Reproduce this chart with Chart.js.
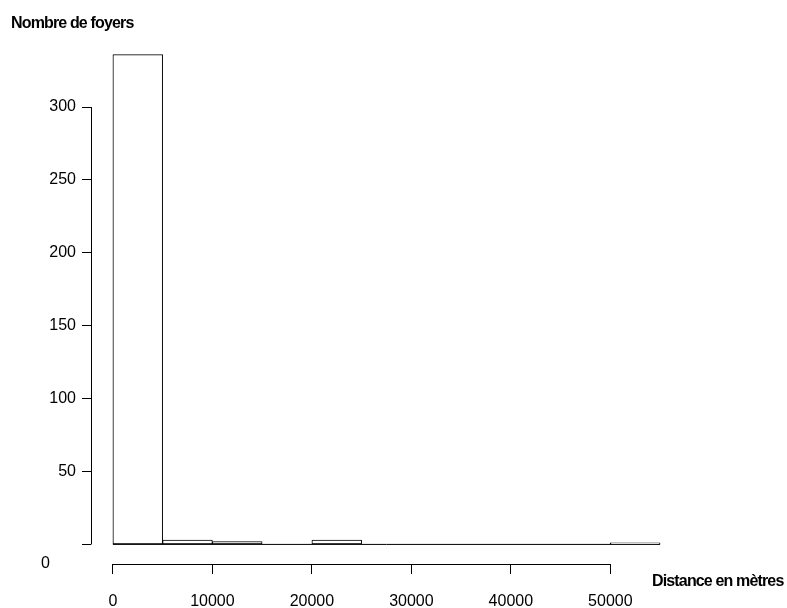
<!DOCTYPE html>
<html><head><meta charset="utf-8">
<script src="https://cdn.jsdelivr.net/npm/chart.js@4"></script>
<style>html,body{margin:0;padding:0;background:#fff}#wrap{width:787px;height:608px;position:relative}</style>
</head><body><div id="wrap"><canvas id="c" width="787" height="608"></canvas></div>
<script>
const binStarts = [0, 5000, 10000, 15000, 20000, 25000, 30000, 35000, 40000, 45000, 50000];
const binWidth = 5000;
const counts = [336, 3, 2, 0, 3, 0, 0, 0, 0, 0, 1];
const yTicks = [0, 50, 100, 150, 200, 250, 300];
const xTicks = [0, 10000, 20000, 30000, 40000, 50000];
const yTitle = 'Nombre de foyers';
const xTitle = 'Distance en mètres';

const FONT = '"Liberation Sans", Arial, sans-serif';
const xLo = binStarts[0], xHi = binStarts[binStarts.length - 1] + binWidth;
const xPad = 0.04 * (xHi - xLo);
const yHi = Math.max(...counts), yPad = 0.04 * yHi;

const axesPlugin = {
  id: 'rAxes',
  afterDraw(chart) {
    const ctx = chart.ctx, xs = chart.scales.x, ys = chart.scales.y, ca = chart.chartArea;
    ctx.save();
    ctx.strokeStyle = '#000';
    ctx.lineWidth = 1;
    const ax = Math.round(ca.left) + 0.5;
    ctx.beginPath();
    ctx.moveTo(ax, ys.getPixelForValue(yTicks[0]));
    ctx.lineTo(ax, ys.getPixelForValue(yTicks[yTicks.length - 1]));
    ctx.stroke();
    const ay = Math.round(ca.bottom) + 0.5;
    ctx.beginPath();
    ctx.moveTo(xs.getPixelForValue(xTicks[0]), ay);
    ctx.lineTo(xs.getPixelForValue(xTicks[xTicks.length - 1]), ay);
    ctx.stroke();
    // zero label of y axis, placed at the plot bottom as in the original
    ctx.fillStyle = '#000';
    ctx.font = '16px ' + FONT;
    ctx.textAlign = 'right';
    ctx.textBaseline = 'middle';
    ctx.fillText('0', 50, ca.bottom);
    // titles
    ctx.font = 'bold 16px ' + FONT;
    ctx.letterSpacing = '-0.85px';
    ctx.textAlign = 'left';
    ctx.textBaseline = 'alphabetic';
    ctx.fillText(yTitle, 11, 28);
    ctx.fillText(xTitle, 652, 586);
    ctx.restore();
  }
};

new Chart(document.getElementById('c'), {
  type: 'bar',
  data: {
    datasets: [
      {
        type: 'line',
        data: [{x: xLo, y: 0}, {x: xHi, y: 0}],
        borderColor: '#000', borderWidth: 1, pointRadius: 0, fill: false
      },
      {
        type: 'bar',
        data: binStarts.map((s, i) => ({x: s + binWidth / 2, y: counts[i]})),
        backgroundColor: '#fff', borderColor: '#000', borderWidth: 1,
        borderSkipped: false, barPercentage: 1, categoryPercentage: 1
      }
    ]
  },
  options: {
    responsive: false, animation: false, devicePixelRatio: 1,
    layout: {padding: {top: 35, right: 105, left: 0, bottom: 0}},
    plugins: {legend: {display: false}, tooltip: {enabled: false}, title: {display: false}},
    scales: {
      x: {
        type: 'linear', offset: false, min: xLo - xPad, max: xHi + xPad,
        afterBuildTicks: s => { s.ticks = xTicks.map(v => ({value: v})); },
        afterFit: s => { s.height = 44; },
        grid: {display: true, offset: false, drawOnChartArea: false, drawTicks: true, tickLength: 10, color: '#000', lineWidth: 1},
        border: {display: false},
        ticks: {color: '#000', font: {size: 16, family: FONT}, padding: 18, maxRotation: 0, autoSkip: false,
          callback: v => String(v)}
      },
      y: {
        type: 'linear', min: -yPad, max: yHi + yPad,
        afterBuildTicks: s => { s.ticks = yTicks.map(v => ({value: v})); },
        afterFit: s => { s.width = 91; },
        grid: {display: true, offset: false, drawOnChartArea: false, drawTicks: true, tickLength: 9, color: '#000', lineWidth: 1},
        border: {display: false},
        ticks: {color: '#000', font: {size: 16, family: FONT}, padding: 6, autoSkip: false,
          callback: v => v === 0 ? '' : String(v)}
      }
    }
  },
  plugins: [axesPlugin]
});
</script></body></html>
